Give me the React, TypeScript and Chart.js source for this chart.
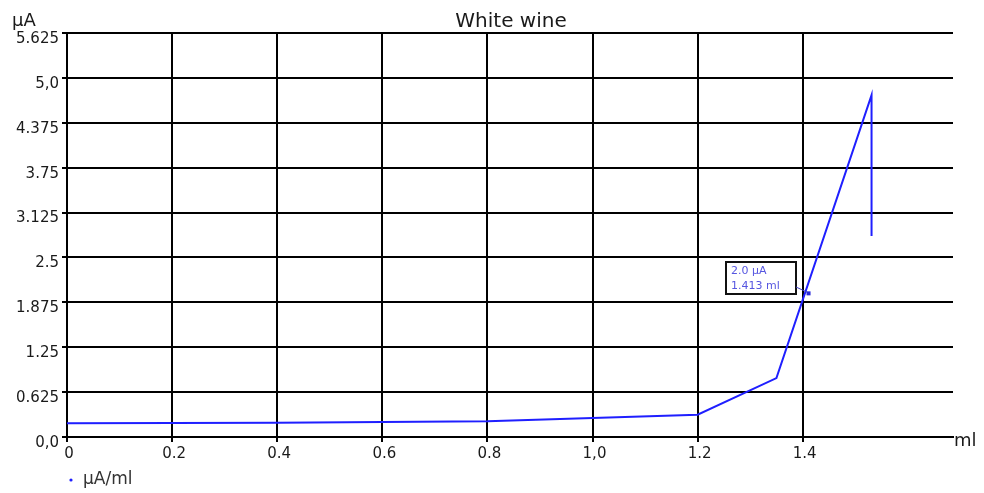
import React, { useEffect, useRef } from "react";
import { Chart, registerables } from "chart.js";

Chart.register(...registerables);

const titleText = "White wine";
const yUnit = "µA";
const xUnit = "ml";
const seriesName = "µA/ml";

const volumes = [0, 0.2, 0.4, 0.6, 0.8, 1.0, 1.2, 1.35, 1.531, 1.531];
const currents = [0.19, 0.195, 0.2, 0.21, 0.22, 0.265, 0.31, 0.82, 4.76, 2.8];

const xTickValues = [0, 0.2, 0.4, 0.6, 0.8, 1.0, 1.2, 1.4];
const xTickLabels = ["0", "0.2", "0.4", "0.6", "0.8", "1,0", "1.2", "1.4"];
const yTickValues = [0, 0.625, 1.25, 1.875, 2.5, 3.125, 3.75, 4.375, 5.0, 5.625];
const yTickLabels = ["0,0", "0.625", "1.25", "1.875", "2.5", "3.125", "3.75", "4.375", "5,0", "5.625"];

const xMin = 0;
const xMax = 1.686;
const yMin = 0;
const yMax = 5.625;

const markerX = [1.413];
const markerY = [2.0];
const markerLines = ["2.0 µA", "1.413 ml"];

const FONT = "'DejaVu Sans', sans-serif";
const LINE_COLOR = "#1f1fff";

const overlayPlugin = {
  id: "overlay",
  afterDraw(chart: any) {
    const ctx = chart.ctx as CanvasRenderingContext2D;
    const xs = chart.scales.x;
    const ys = chart.scales.y;
    ctx.save();
    // title
    ctx.fillStyle = "#1a1a1a";
    ctx.font = `20px ${FONT}`;
    ctx.textAlign = "center";
    ctx.textBaseline = "middle";
    ctx.fillText(titleText, 511, 22);
    // y unit
    ctx.font = `18px ${FONT}`;
    ctx.textAlign = "left";
    ctx.textBaseline = "alphabetic";
    ctx.fillText(yUnit, 12, 26);
    // x unit
    ctx.fillText(xUnit, 954, 446);
    // legend
    ctx.fillStyle = LINE_COLOR;
    ctx.beginPath();
    ctx.arc(71, 480, 1.6, 0, Math.PI * 2);
    ctx.fill();
    ctx.fillStyle = "#333";
    ctx.font = `17px ${FONT}`;
    ctx.textBaseline = "middle";
    ctx.fillText(seriesName, 83, 480);

    // annotation
    for (let i = 0; i < markerX.length; i++) {
      const px = xs.getPixelForValue(markerX[i]);
      const py = ys.getPixelForValue(markerY[i]);
      const bw = 70;
      const bh = 32;
      const bx = Math.round(px) - 14 - bw;
      const by = Math.round(py) - 31;
      ctx.fillStyle = "#fff";
      ctx.fillRect(bx, by, bw, bh);
      ctx.strokeStyle = "#111";
      ctx.lineWidth = 2;
      ctx.strokeRect(bx, by, bw, bh);
      ctx.strokeStyle = "#4040c0";
      ctx.lineWidth = 1;
      ctx.beginPath();
      ctx.moveTo(bx + bw, by + bh - 7);
      ctx.lineTo(px - 2, py - 1);
      ctx.stroke();
      ctx.fillStyle = "#2a2ad8";
      ctx.fillRect(px - 3, py - 2, 4, 4);
      ctx.fillStyle = "#5656e0";
      ctx.font = `11px ${FONT}`;
      ctx.textAlign = "left";
      ctx.textBaseline = "middle";
      ctx.fillText(markerLines[0], bx + 5, by + 9);
      ctx.fillText(markerLines[1], bx + 5, by + 24);
    }
    ctx.restore();
  },
};

export default function App() {
  const ref = useRef<HTMLCanvasElement | null>(null);
  useEffect(() => {
    if (!ref.current) return;
    const data = volumes.map((v, i) => ({ x: v, y: currents[i] }));
    const chart = new Chart(ref.current, {
      type: "line",
      data: {
        datasets: [
          {
            label: seriesName,
            data,
            borderColor: LINE_COLOR,
            backgroundColor: LINE_COLOR,
            borderWidth: 2,
            pointRadius: 0,
            tension: 0,
            fill: false,
          },
        ],
      },
      options: {
        animation: false,
        responsive: false,
        devicePixelRatio: 1,
        layout: { padding: { top: 33, right: 31, bottom: 0, left: 0 } },
        plugins: {
          legend: { display: false },
          title: { display: false },
          tooltip: { enabled: false },
        },
        scales: {
          x: {
            type: "linear",
            min: xMin,
            max: xMax,
            afterBuildTicks: (scale: any) => {
              scale.ticks = xTickValues.map((v) => ({ value: v }));
            },
            afterFit: (scale: any) => {
              scale.height = 56;
            },
            ticks: {
              autoSkip: false,
              maxRotation: 0,
              padding: 3,
              labelOffset: 2,
              color: "#1a1a1a",
              font: { family: FONT, size: 15 },
              callback: (value: any) => {
                const idx = xTickValues.findIndex((t) => Math.abs(t - Number(value)) < 1e-6);
                return idx >= 0 ? xTickLabels[idx] : "";
              },
            },
            grid: { color: "#000", lineWidth: 2, tickLength: 5, drawOnChartArea: true },
            border: { display: true, color: "#000", width: 2 },
          },
          y: {
            type: "linear",
            min: yMin,
            max: yMax,
            afterBuildTicks: (scale: any) => {
              scale.ticks = yTickValues.map((v) => ({ value: v }));
            },
            afterFit: (scale: any) => {
              scale.width = 67;
            },
            ticks: {
              autoSkip: false,
              padding: 3,
              labelOffset: 6,
              color: "#1a1a1a",
              font: { family: FONT, size: 15 },
              callback: (value: any) => {
                const idx = yTickValues.findIndex((t) => Math.abs(t - Number(value)) < 1e-6);
                return idx >= 0 ? yTickLabels[idx] : "";
              },
            },
            grid: { color: "#000", lineWidth: 2, tickLength: 5 },
            border: { display: true, color: "#000", width: 2 },
          },
        },
      },
      plugins: [overlayPlugin],
    });
    return () => chart.destroy();
  }, []);
  return (
    <div style={{ position: "absolute", left: 0, top: 0, width: 984, height: 493, background: "#fff" }}>
      <canvas ref={ref} width={984} height={493} style={{ width: 984, height: 493, display: "block" }} />
    </div>
  );
}
